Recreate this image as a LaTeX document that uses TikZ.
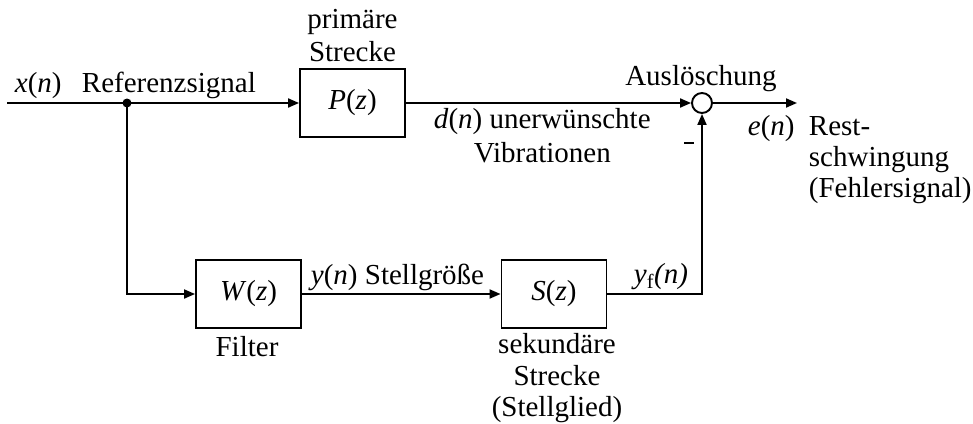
\documentclass[tikz,border=0pt]{standalone}
\usepackage{fontspec}
\setmainfont{Liberation Serif}
\usetikzlibrary{arrows.meta}
\begin{document}
\begin{tikzpicture}[x=1pt,y=-1pt,
  line width=1.9pt,
  every node/.style={font=\fontsize{29}{32}\selectfont},
  blk/.style={draw, line width=1.9pt, minimum width=105pt, minimum height=68pt, inner sep=0pt},
  sumpt/.style={draw, circle, line width=1.9pt, minimum size=20pt, inner sep=0pt},
  sig/.style={-{Triangle[length=11pt,width=9pt]}},
  lbl/.style={inner sep=0pt, anchor=base west},
  clbl/.style={inner sep=0pt, anchor=base}]
  \useasboundingbox (0,0) rectangle (973,423);

  % blocks
  \node[blk] (P) at (352.5,103) {\textit{P}(\textit{z})};
  \node[blk] (W) at (248.5,294) {\textit{W}(\textit{z})};
  \node[blk] (S) at (554,294) {\textit{S}(\textit{z})};
  \node[sumpt] (sum) at (702,103) {};

  % signal path points
  \coordinate (in) at (7,103);
  \coordinate (br) at (127,103);
  \coordinate (out) at (797,103);

  % connectors
  \draw[sig] (in) -- (P.west);
  \fill (br) circle[radius=4.5pt];
  \draw[sig] (br) |- (W.west);
  \draw[sig] (W.east) -- (S.west);
  \draw[sig] (P.east) -- (sum.west);
  \draw[sig] (S.east) -| (sum.south);
  \draw[sig] (sum.east) -- (out);

  % labels
  \node[lbl] (xn) at (14,92) {\textit{x}(\textit{n})};
  \node[lbl] (ref) at (81,92) {Referenzsignal};
  \node[clbl] (prim1) at (352.5,28) {primäre};
  \node[clbl] (prim2) at (352.5,61) {Strecke};
  \node[clbl] (ausl) at (701,85) {Auslöschung};
  \node[lbl] (dn) at (433,128) {\textit{d}(\textit{n}) unerwünschte};
  \node[lbl] (vib) at (473,162) {Vibrationen};
  % sign of the feedback input at the summing point
  \node[inner sep=0pt] (minus) at (689,143) {\rule{10pt}{2.6pt}};
  \node[lbl] (en) at (747,135) {\textit{e}(\textit{n})};
  \node[lbl] (rest1) at (808,135) {Rest-};
  \node[lbl] (rest2) at (808,166) {schwingung};
  \node[lbl] (rest3) at (808,197) {(Fehlersignal)};
  \node[lbl] (yn) at (310,284) {\textit{y}(\textit{n}) Stellgröße};
  \node[lbl] (yf) at (633,283) {\textit{y}\textsubscript{f}\textit{(n)}};
  \node[clbl] (filt) at (247,356) {Filter};
  \node[clbl] (sek1) at (557,353) {sekundäre};
  \node[clbl] (sek2) at (557,385) {Strecke};
  \node[clbl] (sek3) at (557,416) {(Stellglied)};
\end{tikzpicture}
\end{document}
